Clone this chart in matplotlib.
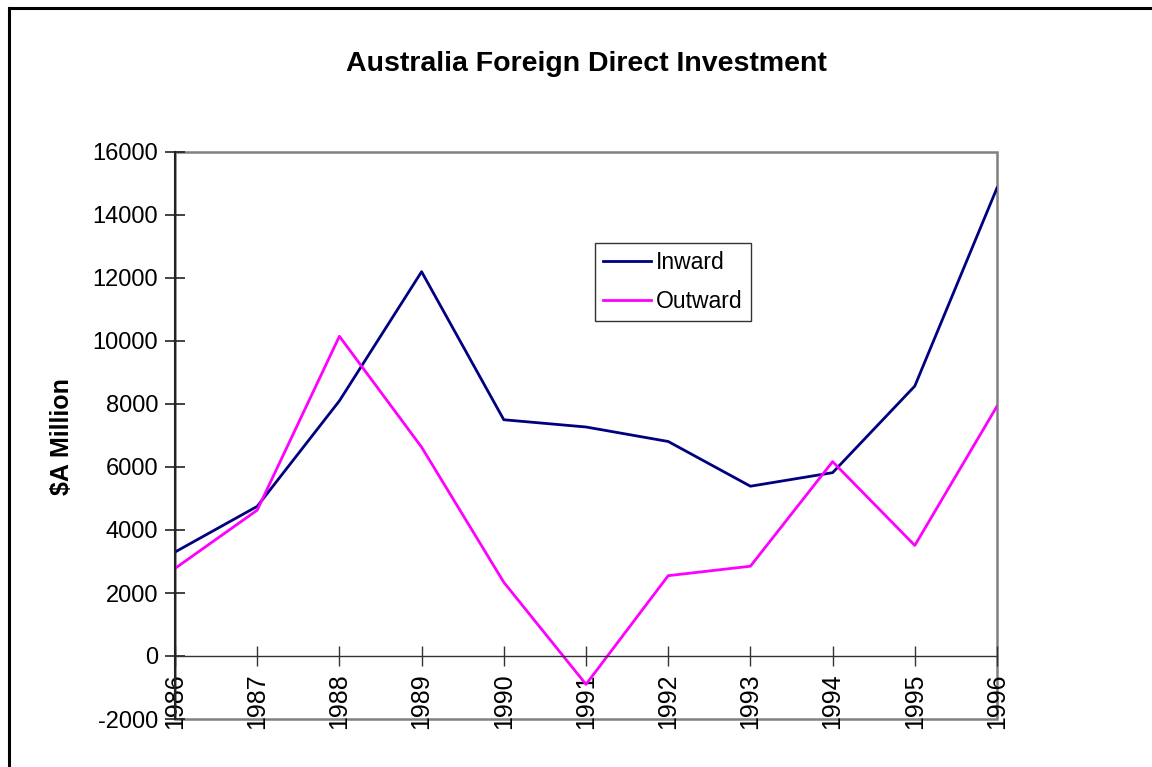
import matplotlib
matplotlib.use("Agg")
import matplotlib.pyplot as plt
from matplotlib.lines import Line2D
from matplotlib.patches import Rectangle

years = ["1986", "1987", "1988", "1989", "1990", "1991", "1992", "1993", "1994", "1995", "1996"]
inward = [3300, 4750, 8100, 12200, 7500, 7270, 6810, 5390, 5820, 8570, 14860]
outward = [2780, 4630, 10150, 6630, 2340, -900, 2550, 2850, 6170, 3510, 7930]
yticks = [-2000, 0, 2000, 4000, 6000, 8000, 10000, 12000, 14000, 16000]

plt.rcParams['font.family'] = ['Liberation Sans', 'DejaVu Sans']

W, H = 1152, 767
fig = plt.figure(figsize=(W / 100, H / 100), dpi=100)
fig.patch.set_facecolor('white')

L, R, T, B = 175, 997, 152, 719
ax = fig.add_axes([L / W, 1 - B / H, (R - L) / W, (B - T) / H])

x = list(range(len(years)))
ax.plot(x, inward, color='#000080', lw=2.0, label='Inward')
ax.plot(x, outward, color='#FF00FF', lw=2.0, label='Outward')

ax.set_xlim(0, len(years) - 1)
ax.set_ylim(-2000, 16000)
ax.set_yticks(yticks)
ax.set_yticklabels([str(v) for v in yticks])
ax.set_xticks(x)
ax.set_xticklabels(years)

# frame
for s in ['top', 'right']:
    ax.spines[s].set_visible(False)
ax.add_patch(Rectangle((0, 0), 1, 1, transform=ax.transAxes, fill=False,
                       edgecolor='#808080', lw=1.8, zorder=0.5, clip_on=False))
ax.spines['left'].set_color('#222222')
ax.spines['left'].set_linewidth(1.5)
ax.spines['left'].set_zorder(3)
ax.spines['bottom'].set_position(('data', 0))
ax.spines['bottom'].set_color('#333333')
ax.spines['bottom'].set_linewidth(1.0)

ax.tick_params(axis='y', direction='inout', length=15, width=1.2, color='#222222',
               labelsize=17, pad=4.7)
ax.tick_params(axis='x', direction='inout', length=15, width=1.0, color='#333333',
               labelsize=18, pad=5.0, labelrotation=90)

leg = ax.legend(loc='upper left', bbox_to_anchor=(595 / W, 1 - 243 / H),
                bbox_transform=fig.transFigure, borderaxespad=0, fancybox=False,
                frameon=True, edgecolor='black', fontsize=16.5, handlelength=2.1,
                handletextpad=0.2, borderpad=0.36, labelspacing=0.68)
leg.get_frame().set_linewidth(1.0)

fig.text(586 / W, 1 - 64 / H, 'Australia Foreign Direct Investment', ha='center',
         va='center', fontsize=20.5, fontweight='bold')
fig.text(62 / W, 1 - 437 / H, '$A Million', ha='center', va='center', rotation=90,
         fontsize=18, fontweight='bold')

# outer chart border (partly cropped)
fig.add_artist(Line2D([8.5 / W, 1], [1 - 8 / H, 1 - 8 / H], transform=fig.transFigure,
                      color='black', lw=2.2))
fig.add_artist(Line2D([8.5 / W, 8.5 / W], [0, 1 - 8 / H], transform=fig.transFigure,
                      color='black', lw=2.2))

fig.savefig('out.png', dpi=100, facecolor='white')
